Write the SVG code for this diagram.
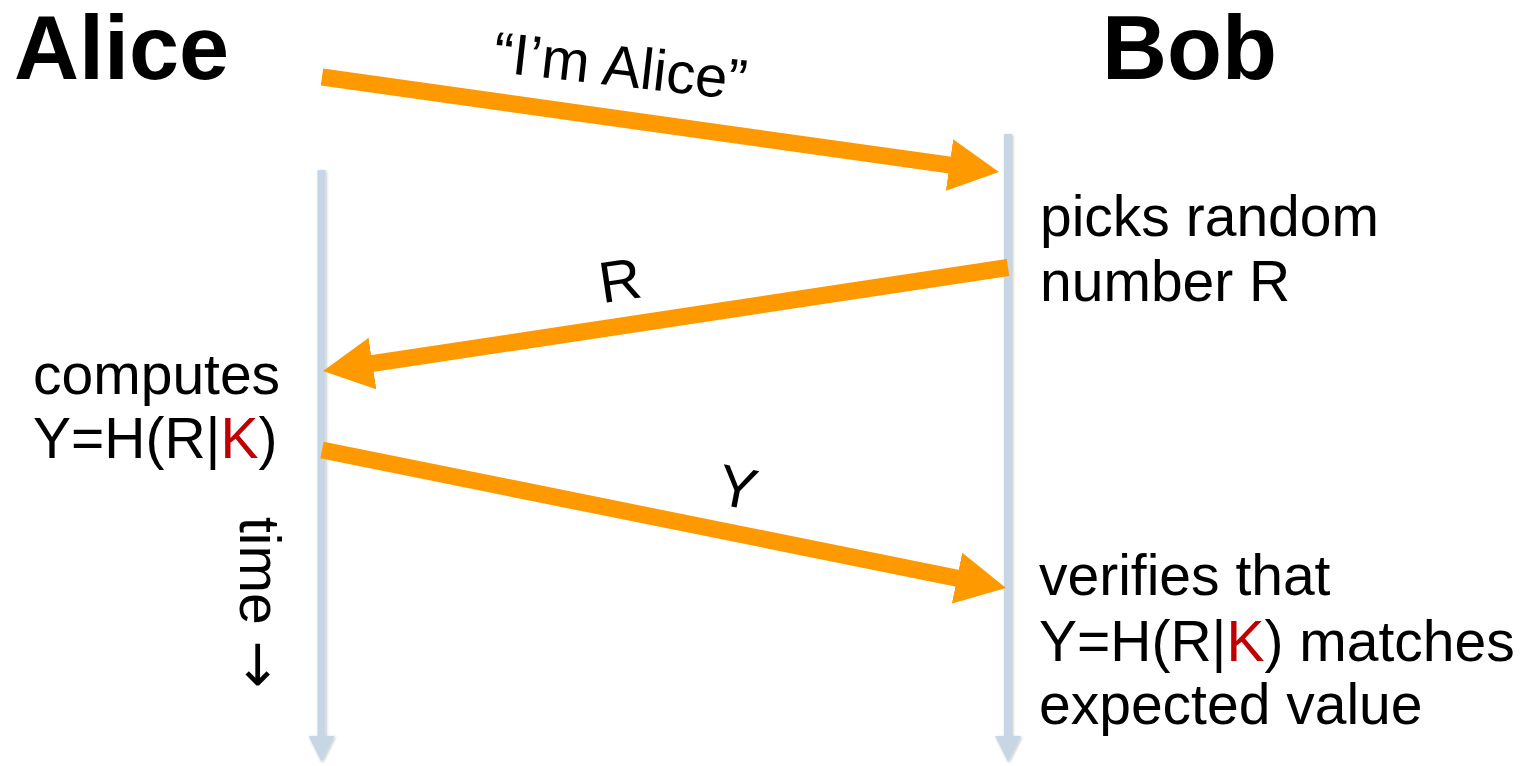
<svg xmlns="http://www.w3.org/2000/svg" width="1532" height="766" viewBox="0 0 1532 766">
  <style>
    text { font-family: "Liberation Sans", Arial, sans-serif; fill: #000; }
    .title { font-size: 90px; font-weight: bold; }
    .body { font-size: 57px; }
    .label { font-size: 58px; }
    .key { fill: #c00000; }
    .arrowglyph { font-family: "DejaVu Sans", sans-serif; }
    .msg { stroke: #ff9900; stroke-width: 17; fill: none; marker-end: url(#orangeHead); }
    .life { stroke: #c6d6e5; stroke-width: 8; fill: none; marker-end: url(#lifeHead); }
  </style>
  <defs>
    <marker id="orangeHead" markerUnits="userSpaceOnUse" viewBox="0 0 50 52" refX="1" refY="26" markerWidth="50" markerHeight="52" orient="auto">
      <path d="M0,0 L50,26 L0,52 Z" fill="#ff9900"/>
    </marker>
    <marker id="lifeHead" markerUnits="userSpaceOnUse" viewBox="0 0 26 26" refX="1" refY="13" markerWidth="26" markerHeight="26" orient="auto">
      <path d="M0,0 L26,13 L0,26 Z" fill="#c6d6e5"/>
    </marker>
    <filter id="soft" filterUnits="userSpaceOnUse" x="0" y="0" width="1532" height="766">
      <feGaussianBlur in="SourceAlpha" stdDeviation="1.5"/>
      <feOffset dx="1" dy="1"/>
      <feComponentTransfer><feFuncA type="linear" slope="0.25"/></feComponentTransfer>
      <feMerge><feMergeNode/><feMergeNode in="SourceGraphic"/></feMerge>
    </filter>
  </defs>

  <!-- lifelines (time runs downward) -->
  <g id="lifelines" filter="url(#soft)">
    <line class="life" x1="321.5" y1="170" x2="321.5" y2="737"/>
    <line class="life" x1="1008" y1="134" x2="1008" y2="737"/>
  </g>

  <g id="alice">
    <text class="title" x="14" y="79">Alice</text>
    <text class="body" x="33" y="394">computes</text>
    <text class="body" x="33" y="458">Y=H(R|<tspan class="key">K</tspan>)</text>
    <text class="body" transform="translate(240,517) rotate(90)">time <tspan class="arrowglyph">→</tspan></text>
  </g>

  <g id="bob">
    <text class="title" x="1102" y="79">Bob</text>
    <text class="body" x="1040" y="236">picks random</text>
    <text class="body" x="1040" y="301">number R</text>
    <text class="body" x="1039" y="595">verifies that</text>
    <text class="body" x="1039" y="661">Y=H(R|<tspan class="key">K</tspan>) matches</text>
    <text class="body" x="1039" y="724">expected value</text>
  </g>

  <!-- messages -->
  <g id="messages">
    <line class="msg" x1="322" y1="77" x2="950.5" y2="165.2"/>
    <line class="msg" x1="1008" y1="267.5" x2="371.5" y2="363.7"/>
    <line class="msg" x1="322" y1="450" x2="958" y2="578.3"/>
    <text class="label" text-anchor="middle" transform="translate(618,86) rotate(6.5)">“I’m Alice”</text>
    <text class="label" text-anchor="middle" transform="translate(623,300) rotate(-8.6)">R</text>
    <text class="label" text-anchor="middle" transform="translate(734,507) rotate(11)">Y</text>
  </g>
</svg>
